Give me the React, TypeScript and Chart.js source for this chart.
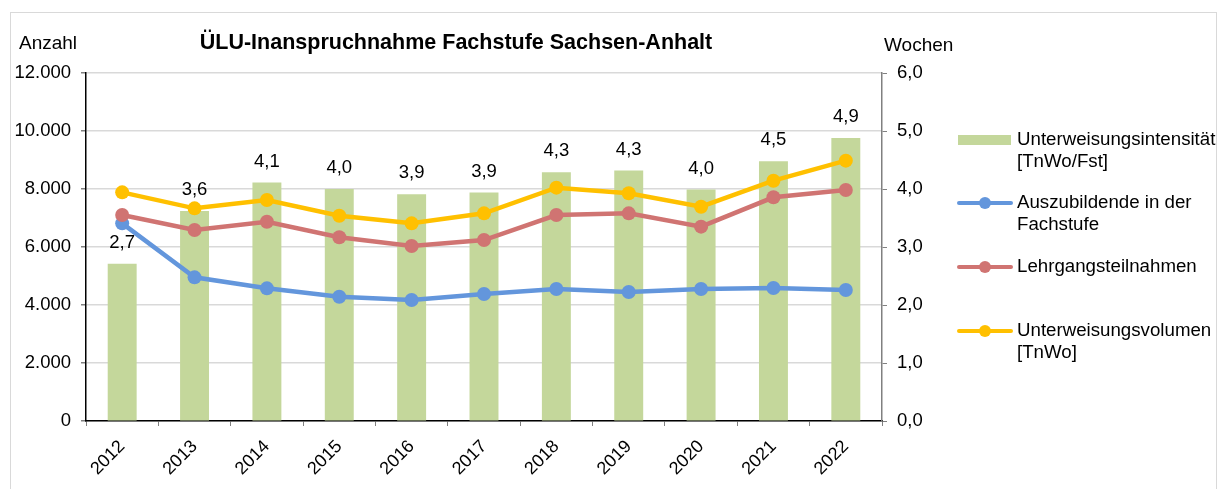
import React, { useEffect, useRef } from "react";
import { Chart, registerables } from "chart.js";

Chart.register(...registerables);

const years = ["2012", "2013", "2014", "2015", "2016", "2017", "2018", "2019", "2020", "2021", "2022"];
const intensitaet = [2.71, 3.62, 4.11, 4.0, 3.91, 3.94, 4.29, 4.32, 3.99, 4.48, 4.88];
const auszubildende = [6816, 4954, 4575, 4287, 4172, 4379, 4552, 4448, 4552, 4586, 4517];
const lehrgang = [7103, 6586, 6872, 6334, 6034, 6241, 7103, 7161, 6701, 7713, 7966];
const volumen = [7885, 7333, 7621, 7080, 6816, 7161, 8046, 7851, 7390, 8287, 8977];

const title = "ÜLU-Inanspruchnahme Fachstufe Sachsen-Anhalt";
const leftTitle = "Anzahl";
const rightTitle = "Wochen";
const legendItems = [
  { lines: ["Unterweisungsintensität", "[TnWo/Fst]"], color: "#c4d79b", type: "bar" },
  { lines: ["Auszubildende in der", "Fachstufe"], color: "#6396dc", type: "line" },
  { lines: ["Lehrgangsteilnahmen"], color: "#d07472", type: "line" },
  { lines: ["Unterweisungsvolumen", "[TnWo]"], color: "#ffc000", type: "line" },
];

const FONT = "'Liberation Sans', Arial, sans-serif";

const fmtThousands = (v: number) => String(Math.round(v)).replace(/\B(?=(\d{3})+(?!\d))/g, ".");
const fmtDec = (v: number) => v.toFixed(1).replace(".", ",");

export default function App() {
  const ref = useRef<HTMLCanvasElement | null>(null);

  useEffect(() => {
    if (!ref.current) return;
    const decor = {
      id: "decor",
      afterDraw(chart: any) {
        const ctx = chart.ctx;
        ctx.save();
        // border
        ctx.strokeStyle = "#d9d9d9";
        ctx.lineWidth = 1;
        ctx.strokeRect(10.5, 12.5, 1206, 490);
        // titles
        ctx.fillStyle = "#000";
        ctx.textBaseline = "middle";
        ctx.font = `bold 21.5px ${FONT}`;
        ctx.textAlign = "center";
        ctx.fillText(title, 456, 43);
        ctx.font = `19px ${FONT}`;
        ctx.textAlign = "left";
        ctx.fillText(leftTitle, 19, 44);
        ctx.fillText(rightTitle, 884, 46);
        // bar labels
        ctx.font = `18.5px ${FONT}`;
        const meta = chart.getDatasetMeta(0);
        ctx.textAlign = "center";
        meta.data.forEach((el: any, i: number) => {
          ctx.fillText(fmtDec(intensitaet[i]), el.x, el.y - 21);
        });
        // legend
        ctx.font = `18.7px ${FONT}`;
        const ys = [140, 203, 267, 331];
        legendItems.forEach((it, i) => {
          const y = ys[i];
          if (it.type === "bar") {
            ctx.fillStyle = it.color;
            ctx.fillRect(958, y - 5, 53, 10);
          } else {
            ctx.strokeStyle = it.color;
            ctx.lineWidth = 4;
            ctx.lineCap = "round";
            ctx.beginPath();
            ctx.moveTo(959, y);
            ctx.lineTo(1011, y);
            ctx.stroke();
            ctx.fillStyle = it.color;
            ctx.beginPath();
            ctx.arc(985, y, 6, 0, Math.PI * 2);
            ctx.fill();
          }
          ctx.fillStyle = "#000";
          ctx.textAlign = "left";
          it.lines.forEach((t, j) => ctx.fillText(t, 1017, y + j * 22));
        });
        ctx.restore();
      },
    };

    const lineDs = (label: string, data: number[], color: string, order: number) => ({
      type: "line" as const,
      label,
      data,
      yAxisID: "y",
      borderColor: color,
      backgroundColor: color,
      borderWidth: 4.5,
      pointRadius: 7,
      pointBackgroundColor: color,
      pointBorderWidth: 0,
      tension: 0,
      order,
    });

    const chart = new Chart(ref.current, {
      type: "bar",
      data: {
        labels: years,
        datasets: [
          {
            type: "bar",
            label: "Unterweisungsintensität [TnWo/Fst]",
            data: intensitaet,
            yAxisID: "y1",
            backgroundColor: "#c4d79b",
            barPercentage: 0.8,
            categoryPercentage: 0.5,
            order: 10,
          } as any,
          lineDs("Auszubildende in der Fachstufe", auszubildende, "#6396dc", 3),
          lineDs("Lehrgangsteilnahmen", lehrgang, "#d07472", 2),
          lineDs("Unterweisungsvolumen [TnWo]", volumen, "#ffc000", 1),
        ],
      },
      options: {
        responsive: false,
        animation: false,
        layout: { padding: { top: 73, left: 0, right: 0, bottom: 0 } },
        plugins: { legend: { display: false }, tooltip: { enabled: false }, title: { display: false } },
        font: { family: FONT, size: 18 },
        scales: {
          x: {
            type: "category",
            offset: true,
            grid: { offset: true, drawOnChartArea: false, drawTicks: true, tickLength: 5, tickColor: "#808080" },
            border: { color: "#000", width: 1.5 },
            ticks: { minRotation: 45, maxRotation: 45, color: "#000", font: { family: FONT, size: 18 }, padding: 10 },
            afterFit: (s: any) => { s.height = 68; },
          },
          y: {
            position: "left",
            min: 0,
            max: 12000,
            ticks: { stepSize: 2000, color: "#000", font: { family: FONT, size: 18.5 }, padding: 10, callback: (v: any) => fmtThousands(Number(v)) },
            grid: { color: "#d9d9d9", lineWidth: 1.5, tickColor: "#808080", tickLength: 5 },
            border: { color: "#000", width: 1.5 },
            afterFit: (s: any) => { s.width = 86; },
          },
          y1: {
            position: "right",
            min: 0,
            max: 6,
            ticks: { stepSize: 1, color: "#000", font: { family: FONT, size: 18.5 }, padding: 10, callback: (v: any) => fmtDec(Number(v)) },
            grid: { drawOnChartArea: false, tickColor: "#808080", tickLength: 5 },
            border: { color: "#808080", width: 1.5 },
            afterFit: (s: any) => { s.width = 341; },
          },
        },
      } as any,
      plugins: [decor],
    });
    return () => chart.destroy();
  }, []);

  return (
    <div style={{ position: "absolute", left: 0, top: 0, width: 1223, height: 489, background: "#fff" }}>
      <canvas ref={ref} width={1223} height={489} style={{ display: "block" }} />
    </div>
  );
}
